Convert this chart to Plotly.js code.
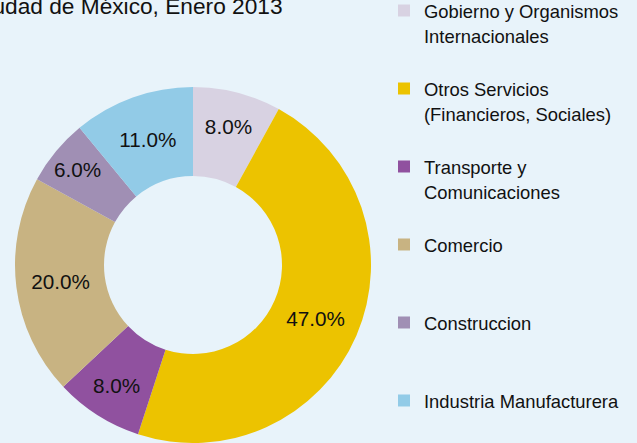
<!DOCTYPE html>
<html>
<head>
<meta charset="utf-8">
<script src="https://cdn.plot.ly/plotly-3.0.1.min.js"></script>
<style>
html, body { margin: 0; padding: 0; background: #e8f3fa; }
#chart { width: 637px; height: 443px; }
</style>
</head>
<body>
<div id="chart"></div>
<script>
// ---- data ----
var titleText = "Ciudad de México, Enero 2013";
var categories = [
  "Gobierno y Organismos<br>Internacionales",
  "Otros Servicios<br>(Financieros, Sociales)",
  "Transporte y<br>Comunicaciones",
  "Comercio",
  "Construccion",
  "Industria Manufacturera"
];
var shares = [8, 47, 8, 20, 6, 11];
var sliceColors = ["#d8d2e2", "#ecc300", "#90519f", "#c8b382", "#a08fb4", "#92cbe7"];

// legend labels: blank first line so the swatch sits beside the first text line
var legendLabels = categories.map(function (c) {
  var twoLines = c.indexOf("<br>") >= 0;
  return "<br>" + '<span style="font-size:18.4px">' + c + "</span>" + (twoLines ? "" : "<br> ");
});

var W = 637, H = 443;
var trace = {
  type: "pie",
  labels: legendLabels,
  values: shares,
  sort: false,
  direction: "clockwise",
  rotation: 0,
  hole: 0.5,
  marker: { colors: sliceColors, line: { width: 0 } },
  textinfo: "percent",
  texttemplate: "%{percent:.1%}",
  textposition: "inside",
  insidetextorientation: "horizontal",
  textfont: { family: "Liberation Sans, Arial, sans-serif", size: 20.7, color: "#111111" },
  domain: { x: [14 / W, 372 / W], y: [0, 356 / H] },
  hoverinfo: "none"
};

var layout = {
  width: W,
  height: H,
  paper_bgcolor: "#e8f3fa",
  plot_bgcolor: "#e8f3fa",
  margin: { l: 0, r: 0, t: 0, b: 0, autoexpand: false },
  font: { family: "Liberation Sans, Arial, sans-serif", color: "#111111" },
  showlegend: true,
  legend: {
    x: 384 / W,
    xanchor: "left",
    y: 1 + 33.5 / H,
    yanchor: "top",
    maxheight: 700,
    bgcolor: "rgba(0,0,0,0)",
    borderwidth: 0,
    font: { family: "Liberation Sans, Arial, sans-serif", size: 19.23, color: "#111111" }
  },
  annotations: [{
    text: titleText,
    xref: "paper", yref: "paper",
    x: 285 / W, xanchor: "right",
    y: 1 + 9.4 / H, yanchor: "top",
    showarrow: false,
    font: { family: "Liberation Sans, Arial, sans-serif", size: 22.7, color: "#111111" }
  }]
};

Plotly.newPlot("chart", [trace], layout, { displayModeBar: false, staticPlot: true });
</script>
</body>
</html>
